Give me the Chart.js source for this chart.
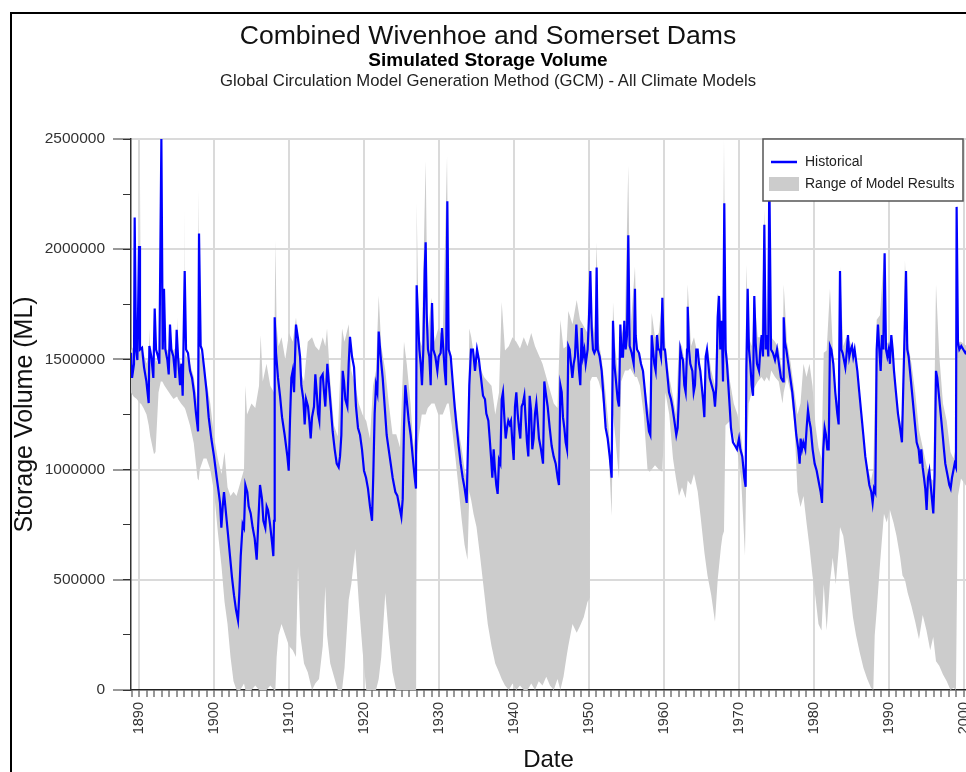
<!DOCTYPE html>
<html>
<head>
<meta charset="utf-8">
<title>Combined Wivenhoe and Somerset Dams</title>
<script src="https://cdn.jsdelivr.net/npm/chart.js@4.4.1/dist/chart.umd.min.js"></script>
<style>
  html, body { margin: 0; padding: 0; background: #fff; overflow: hidden; }
  body { width: 966px; height: 772px; position: relative; font-family: "Liberation Sans", Arial, sans-serif; }
  #frame { position: absolute; left: 10px; top: 12px; width: 1000px; height: 800px; border-left: 2px solid #000; border-top: 2px solid #000; pointer-events: none; }
  .t { position: absolute; left: 0; width: 976px; text-align: center; color: #111; line-height: 1; white-space: nowrap; }
  #t1 { top: 22px; font-size: 26.6px; }
  #t2 { top: 50px; font-size: 19px; font-weight: bold; color: #000; }
  #t3 { top: 73px; font-size: 16.7px; color: #222; }
  canvas { position: absolute; left: 0; top: 0; }
</style>
</head>
<body>
<canvas id="storageChart" width="966" height="772"></canvas>
<div class="t" id="t1">Combined Wivenhoe and Somerset Dams</div>
<div class="t" id="t2">Simulated Storage Volume</div>
<div class="t" id="t3">Global Circulation Model Generation Method (GCM) - All Climate Models</div>
<div id="frame"></div>
<script>
// Historical simulated storage (ML)
const histYears = [
  1888.93, 1889.07, 1889.33, 1889.42, 1889.60, 1889.78, 1890.00, 1890.13, 1890.40, 1890.67,
  1890.98, 1891.29, 1891.38, 1891.64, 1891.91, 1892.09, 1892.27, 1892.53, 1892.71, 1892.98,
  1893.16, 1893.33, 1893.51, 1893.78, 1893.96, 1894.13, 1894.31, 1894.58, 1894.84, 1895.02,
  1895.20, 1895.47, 1895.64, 1895.82, 1896.09, 1896.27, 1896.53, 1896.80, 1897.07, 1897.33,
  1897.60, 1897.87, 1898.00, 1898.22, 1898.40, 1898.67, 1899.02, 1899.29, 1899.64, 1900.00,
  1900.36, 1900.62, 1900.80, 1900.98, 1901.16, 1901.33, 1901.51, 1901.69, 1901.87, 1902.13,
  1902.40, 1902.67, 1902.93, 1903.20, 1903.38, 1903.56, 1903.82, 1904.00, 1904.18, 1904.44,
  1904.62, 1904.89, 1905.16, 1905.42, 1905.69, 1905.87, 1906.13, 1906.40, 1906.58, 1906.84,
  1907.02, 1907.20, 1907.47, 1907.73, 1907.91, 1908.00, 1908.09, 1908.27, 1908.53, 1908.80,
  1909.07, 1909.42, 1909.78, 1909.96, 1910.13, 1910.31, 1910.49, 1910.67, 1910.93, 1911.20,
  1911.47, 1911.64, 1911.91, 1912.09, 1912.27, 1912.53, 1912.71, 1912.89, 1913.07, 1913.33,
  1913.51, 1913.69, 1913.87, 1914.04, 1914.22, 1914.49, 1914.67, 1914.84, 1915.11, 1915.29,
  1915.56, 1915.82, 1916.09, 1916.36, 1916.62, 1916.80, 1916.98, 1917.16, 1917.33, 1917.51,
  1917.78, 1917.96, 1918.13, 1918.40, 1918.67, 1918.93, 1919.20, 1919.47, 1919.73, 1920.00,
  1920.27, 1920.53, 1920.80, 1921.07, 1921.24, 1921.42, 1921.60, 1921.78, 1921.96, 1922.22,
  1922.49, 1922.76, 1923.02, 1923.29, 1923.56, 1923.82, 1924.00, 1924.18, 1924.44, 1924.71,
  1924.98, 1925.16, 1925.33, 1925.51, 1925.78, 1925.96, 1926.22, 1926.49, 1926.76, 1926.93,
  1927.02, 1927.20, 1927.38, 1927.56, 1927.73, 1927.91, 1928.09, 1928.22, 1928.36, 1928.53,
  1928.71, 1928.89, 1929.07, 1929.24, 1929.51, 1929.78, 1929.96, 1930.22, 1930.40, 1930.58,
  1930.76, 1930.93, 1931.11, 1931.29, 1931.56, 1931.82, 1932.09, 1932.36, 1932.62, 1932.89,
  1933.16, 1933.42, 1933.69, 1933.87, 1934.04, 1934.27, 1934.53, 1934.80, 1935.07, 1935.33,
  1935.60, 1935.87, 1936.13, 1936.31, 1936.58, 1936.76, 1936.93, 1937.11, 1937.29, 1937.47,
  1937.64, 1937.82, 1938.00, 1938.18, 1938.36, 1938.53, 1938.71, 1938.89, 1939.07, 1939.24,
  1939.42, 1939.60, 1939.78, 1939.96, 1940.13, 1940.31, 1940.49, 1940.67, 1940.84, 1941.02,
  1941.20, 1941.38, 1941.56, 1941.73, 1941.91, 1942.09, 1942.27, 1942.44, 1942.62, 1942.80,
  1942.98, 1943.16, 1943.33, 1943.60, 1943.87, 1944.04, 1944.22, 1944.49, 1944.76, 1945.02,
  1945.29, 1945.56, 1945.82, 1946.00, 1946.18, 1946.36, 1946.53, 1946.71, 1946.89, 1947.07,
  1947.24, 1947.42, 1947.60, 1947.78, 1947.96, 1948.13, 1948.31, 1948.49, 1948.67, 1948.84,
  1949.02, 1949.20, 1949.38, 1949.56, 1949.82, 1950.00, 1950.18, 1950.36, 1950.53, 1950.71,
  1950.89, 1951.02, 1951.16, 1951.42, 1951.69, 1951.96, 1952.22, 1952.49, 1952.76, 1953.02,
  1953.20, 1953.38, 1953.56, 1953.82, 1954.00, 1954.18, 1954.36, 1954.53, 1954.71, 1954.89,
  1955.07, 1955.24, 1955.42, 1955.69, 1955.96, 1956.13, 1956.22, 1956.40, 1956.67, 1956.93,
  1957.20, 1957.47, 1957.73, 1958.00, 1958.18, 1958.36, 1958.53, 1958.71, 1958.89, 1959.07,
  1959.24, 1959.42, 1959.60, 1959.78, 1959.96, 1960.13, 1960.31, 1960.49, 1960.67, 1960.93,
  1961.11, 1961.38, 1961.64, 1961.82, 1962.00, 1962.18, 1962.36, 1962.53, 1962.71, 1962.89,
  1963.07, 1963.16, 1963.33, 1963.51, 1963.78, 1963.96, 1964.13, 1964.31, 1964.49, 1964.67,
  1964.84, 1965.02, 1965.20, 1965.38, 1965.56, 1965.73, 1965.91, 1966.09, 1966.36, 1966.62,
  1966.80, 1966.98, 1967.16, 1967.33, 1967.51, 1967.69, 1967.87, 1968.04, 1968.22, 1968.40,
  1968.58, 1968.76, 1968.93, 1969.20, 1969.47, 1969.73, 1970.00, 1970.18, 1970.44, 1970.71,
  1970.89, 1970.98, 1971.16, 1971.33, 1971.51, 1971.69, 1971.87, 1972.04, 1972.22, 1972.40,
  1972.67, 1972.84, 1973.02, 1973.20, 1973.38, 1973.56, 1973.73, 1973.91, 1974.04, 1974.27,
  1974.53, 1974.80, 1975.07, 1975.33, 1975.60, 1975.87, 1975.96, 1976.13, 1976.31, 1976.58,
  1976.84, 1977.11, 1977.38, 1977.64, 1977.91, 1978.09, 1978.22, 1978.40, 1978.58, 1978.84,
  1979.02, 1979.20, 1979.38, 1979.56, 1979.82, 1980.09, 1980.36, 1980.53, 1980.71, 1980.89,
  1981.07, 1981.24, 1981.42, 1981.60, 1981.78, 1981.96, 1982.13, 1982.31, 1982.58, 1982.84,
  1983.11, 1983.29, 1983.47, 1983.64, 1983.82, 1984.00, 1984.18, 1984.36, 1984.53, 1984.71,
  1984.89, 1985.07, 1985.24, 1985.42, 1985.60, 1985.78, 1986.04, 1986.31, 1986.58, 1986.84,
  1987.11, 1987.38, 1987.64, 1987.82, 1988.00, 1988.18, 1988.36, 1988.53, 1988.71, 1988.89,
  1989.07, 1989.24, 1989.42, 1989.60, 1989.78, 1989.96, 1990.13, 1990.31, 1990.49, 1990.67,
  1990.93, 1991.20, 1991.47, 1991.73, 1991.91, 1992.09, 1992.27, 1992.44, 1992.62, 1992.89,
  1993.16, 1993.42, 1993.69, 1993.96, 1994.13, 1994.31, 1994.49, 1994.67, 1994.84, 1995.02,
  1995.20, 1995.38, 1995.56, 1995.73, 1995.91, 1996.09, 1996.27, 1996.44, 1996.62, 1996.80,
  1996.98, 1997.16, 1997.33, 1997.51, 1997.69, 1997.87, 1998.04, 1998.22, 1998.40, 1998.58,
  1998.76, 1998.93, 1999.02, 1999.20, 1999.38, 1999.64, 1999.91, 2000.18, 2000.40
];
const histValues = [
  1530000, 1416000, 1480000, 2144000, 1545000, 1497000, 2014000, 1545000, 1553000, 1464000,
  1400000, 1302000, 1561000, 1513000, 1416000, 1731000, 1545000, 1513000, 1480000, 2500000,
  1545000, 1820000, 1545000, 1497000, 1432000, 1658000, 1545000, 1513000, 1416000, 1634000,
  1513000, 1383000, 1480000, 1335000, 1901000, 1545000, 1529000, 1448000, 1416000, 1351000,
  1254000, 1173000, 2071000, 1561000, 1545000, 1464000, 1351000, 1238000, 1141000, 1060000,
  963000, 898000, 849000, 736000, 833000, 898000, 833000, 768000, 704000, 607000,
  510000, 429000, 364000, 316000, 445000, 607000, 752000, 736000, 930000, 898000,
  833000, 801000, 736000, 688000, 591000, 736000, 930000, 866000, 768000, 736000,
  833000, 817000, 752000, 671000, 607000, 768000, 1691000, 1529000, 1416000, 1335000,
  1238000, 1157000, 1060000, 995000, 1222000, 1416000, 1448000, 1351000, 1658000, 1594000,
  1513000, 1383000, 1319000, 1205000, 1319000, 1286000, 1222000, 1141000, 1238000, 1286000,
  1432000, 1351000, 1254000, 1222000, 1416000, 1432000, 1351000, 1286000, 1480000, 1400000,
  1286000, 1173000, 1092000, 1027000, 1011000, 1060000, 1157000, 1448000, 1400000, 1319000,
  1286000, 1480000, 1602000, 1513000, 1464000, 1286000, 1189000, 1157000, 1092000, 995000,
  963000, 914000, 833000, 768000, 979000, 1254000, 1383000, 1351000, 1626000, 1513000,
  1416000, 1286000, 1157000, 1092000, 1027000, 963000, 930000, 898000, 882000, 833000,
  785000, 866000, 1189000, 1383000, 1286000, 1222000, 1157000, 1060000, 963000, 914000,
  1836000, 1691000, 1545000, 1480000, 1383000, 1545000, 1901000, 2031000, 1707000, 1545000,
  1513000, 1383000, 1756000, 1545000, 1513000, 1448000, 1513000, 1529000, 1642000, 1545000,
  1448000, 1383000, 2217000, 1545000, 1513000, 1400000, 1286000, 1189000, 1108000, 1027000,
  963000, 914000, 849000, 1124000, 1383000, 1545000, 1545000, 1448000, 1545000, 1497000,
  1416000, 1335000, 1319000, 1254000, 1222000, 1141000, 1060000, 963000, 1092000, 995000,
  930000, 890000, 1044000, 1027000, 1319000, 1351000, 1238000, 1141000, 1189000, 1222000,
  1205000, 1222000, 1124000, 1044000, 1286000, 1351000, 1254000, 1189000, 1141000, 1286000,
  1302000, 1335000, 1222000, 1124000, 1060000, 1335000, 1270000, 1092000, 1141000, 1254000,
  1302000, 1222000, 1141000, 1092000, 1027000, 1400000, 1351000, 1286000, 1189000, 1108000,
  1060000, 1027000, 963000, 930000, 1383000, 1351000, 1238000, 1189000, 1124000, 1092000,
  1561000, 1545000, 1480000, 1416000, 1480000, 1513000, 1658000, 1545000, 1448000, 1383000,
  1642000, 1513000, 1545000, 1480000, 1545000, 1691000, 1901000, 1642000, 1545000, 1529000,
  1545000, 1917000, 1545000, 1513000, 1448000, 1319000, 1189000, 1141000, 1060000, 963000,
  1675000, 1480000, 1416000, 1319000, 1286000, 1658000, 1513000, 1513000, 1675000, 1545000,
  1610000, 2063000, 1561000, 1529000, 1480000, 1820000, 1610000, 1545000, 1529000, 1480000,
  1448000, 1351000, 1254000, 1173000, 1157000, 1610000, 1545000, 1480000, 1448000, 1610000,
  1545000, 1545000, 1513000, 1780000, 1545000, 1545000, 1480000, 1416000, 1351000, 1319000,
  1286000, 1222000, 1157000, 1189000, 1335000, 1545000, 1513000, 1497000, 1383000, 1351000,
  1545000, 1739000, 1545000, 1480000, 1448000, 1351000, 1383000, 1545000, 1545000, 1480000,
  1448000, 1383000, 1319000, 1238000, 1513000, 1545000, 1480000, 1416000, 1383000, 1351000,
  1286000, 1383000, 1691000, 1788000, 1545000, 1675000, 1400000, 2209000, 1545000, 1480000,
  1383000, 1286000, 1189000, 1124000, 1108000, 1092000, 1141000, 1092000, 1060000, 963000,
  922000, 1448000, 1820000, 1545000, 1480000, 1383000, 1335000, 1788000, 1578000, 1480000,
  1448000, 1545000, 1610000, 1513000, 2111000, 1545000, 1610000, 1513000, 2350000, 1545000,
  1529000, 1497000, 1545000, 1480000, 1416000, 1400000, 1691000, 1578000, 1545000, 1480000,
  1416000, 1351000, 1254000, 1157000, 1092000, 1027000, 1141000, 1092000, 1124000, 1092000,
  1189000, 1270000, 1222000, 1189000, 1092000, 1027000, 995000, 963000, 930000, 898000,
  849000, 1092000, 1189000, 1157000, 1092000, 1092000, 1561000, 1545000, 1480000, 1351000,
  1254000, 1205000, 1901000, 1545000, 1529000, 1497000, 1464000, 1529000, 1610000, 1513000,
  1545000, 1561000, 1513000, 1545000, 1497000, 1448000, 1351000, 1254000, 1157000, 1060000,
  995000, 930000, 898000, 849000, 914000, 898000, 1545000, 1658000, 1545000, 1448000,
  1610000, 1545000, 1982000, 1545000, 1513000, 1545000, 1480000, 1610000, 1545000, 1448000,
  1351000, 1254000, 1189000, 1124000, 1383000, 1626000, 1901000, 1545000, 1513000, 1416000,
  1319000, 1222000, 1124000, 1092000, 1027000, 1092000, 1011000, 963000, 914000, 817000,
  963000, 995000, 930000, 866000, 801000, 979000, 1448000, 1416000, 1351000, 1286000,
  1222000, 1157000, 1092000, 1027000, 995000, 963000, 930000, 914000, 963000, 995000,
  1027000, 1011000, 2192000, 1578000, 1545000, 1561000, 1545000, 1529000, 1540000
];

// Range of model results (ML): lower and upper envelope
const rangeYears = [
  1888.93, 1889.30, 1889.70, 1890.00, 1890.13, 1890.25, 1890.60, 1891.00, 1891.30, 1891.38,
  1891.50, 1892.00, 1892.20, 1892.60, 1892.90, 1893.00, 1893.10, 1893.40, 1893.80, 1894.20,
  1894.60, 1895.00, 1895.10, 1895.20, 1895.60, 1896.00, 1896.09, 1896.20, 1896.80, 1897.30,
  1897.80, 1897.96, 1898.10, 1898.60, 1899.00, 1899.50, 1900.00, 1900.50, 1901.00, 1901.40,
  1901.80, 1902.20, 1902.60, 1903.00, 1903.50, 1904.00, 1904.18, 1904.40, 1905.00, 1905.50,
  1906.00, 1906.22, 1906.50, 1907.00, 1907.50, 1908.00, 1908.18, 1908.35, 1908.60, 1909.00,
  1909.50, 1910.00, 1910.50, 1910.93, 1911.20, 1911.50, 1912.00, 1912.50, 1913.07, 1913.50,
  1914.00, 1914.50, 1914.84, 1915.07, 1915.50, 1916.00, 1916.50, 1917.07, 1917.40, 1917.96,
  1918.30, 1918.84, 1919.30, 1919.80, 1920.30, 1920.80, 1921.20, 1921.60, 1921.96, 1922.30,
  1922.84, 1923.30, 1923.80, 1924.30, 1924.80, 1925.33, 1925.70, 1926.20, 1926.60, 1926.95,
  1927.02, 1927.30, 1927.70, 1928.22, 1928.50, 1929.00, 1929.40, 1929.90, 1930.50, 1931.07,
  1931.30, 1931.70, 1932.20, 1932.60, 1933.00, 1933.40, 1933.80, 1934.04, 1934.30, 1934.60,
  1935.00, 1935.50, 1936.00, 1936.50, 1937.00, 1937.50, 1938.00, 1938.36, 1938.80, 1939.30,
  1939.80, 1940.30, 1940.80, 1941.30, 1941.80, 1942.30, 1942.80, 1943.30, 1943.80, 1944.30,
  1944.80, 1945.30, 1945.80, 1946.18, 1946.60, 1947.00, 1947.24, 1947.80, 1948.36, 1948.80,
  1949.30, 1949.80, 1950.00, 1950.12, 1950.15, 1950.40, 1950.70, 1951.02, 1951.30, 1951.70,
  1952.20, 1952.60, 1953.02, 1953.20, 1953.50, 1954.00, 1954.30, 1954.80, 1955.24, 1955.50,
  1956.13, 1956.40, 1956.80, 1957.30, 1957.80, 1958.10, 1958.36, 1958.80, 1959.30, 1959.78,
  1960.20, 1960.70, 1961.20, 1961.60, 1962.00, 1962.40, 1962.89, 1963.16, 1963.60, 1964.00,
  1964.50, 1964.90, 1965.40, 1965.80, 1966.30, 1966.80, 1967.16, 1967.60, 1967.80, 1968.00,
  1968.20, 1968.80, 1969.30, 1969.80, 1970.30, 1970.80, 1970.98, 1971.30, 1971.70, 1972.04,
  1972.50, 1973.00, 1973.38, 1973.70, 1974.04, 1974.30, 1974.80, 1975.30, 1975.80, 1975.96,
  1976.40, 1976.90, 1977.40, 1977.80, 1978.20, 1978.60, 1979.00, 1979.40, 1979.80, 1980.20,
  1980.60, 1981.00, 1981.30, 1981.69, 1982.13, 1982.50, 1982.90, 1983.30, 1983.47, 1983.90,
  1984.30, 1984.80, 1985.20, 1985.60, 1986.10, 1986.60, 1987.10, 1987.60, 1987.91, 1988.10,
  1988.36, 1988.80, 1989.33, 1989.70, 1990.10, 1990.60, 1991.00, 1991.50, 1991.80, 1992.13,
  1992.50, 1993.00, 1993.50, 1994.00, 1994.50, 1995.00, 1995.50, 1995.90, 1996.27, 1996.70,
  1997.20, 1997.70, 1998.20, 1998.60, 1998.93, 1999.02, 1999.20, 1999.60, 2000.40
];
const rangeMin = [
  1350000, 1330000, 1320000, 1300000, 1300000, 1300000, 1280000, 1250000, 1200000, 1180000,
  1150000, 1070000, 1080000, 1350000, 1400000, 1400000, 1400000, 1380000, 1360000, 1340000,
  1320000, 1330000, 1330000, 1320000, 1300000, 1280000, 1280000, 1270000, 1200000, 1120000,
  960000, 950000, 1000000, 1050000, 1050000, 1000000, 900000, 720000, 560000, 400000,
  300000, 150000, 40000, 0, 0, 30000, 0, 0, 0, 20000,
  0, 0, 0, 0, 20000, 0, 0, 150000, 250000, 300000,
  250000, 200000, 180000, 150000, 560000, 250000, 120000, 80000, 0, 30000,
  50000, 200000, 470000, 250000, 120000, 60000, 0, 0, 100000, 410000,
  480000, 640000, 400000, 180000, 0, 0, 0, 0, 50000, 150000,
  440000, 250000, 80000, 0, 0, 0, 0, 0, 0, 0,
  1050000, 1150000, 1250000, 1250000, 1280000, 1300000, 1300000, 1250000, 1250000, 1300000,
  1300000, 1200000, 1050000, 920000, 780000, 660000, 590000, 900000, 860000, 800000,
  740000, 600000, 450000, 300000, 200000, 120000, 80000, 50000, 20000, 0,
  30000, 0, 20000, 0, 0, 30000, 0, 40000, 20000, 60000,
  20000, 0, 50000, 0, 60000, 150000, 200000, 300000, 260000, 290000,
  330000, 400000, 410000, 420000, 1400000, 1420000, 1420000, 1420000, 1400000, 1350000,
  1200000, 1100000, 790000, 1250000, 1150000, 960000, 1400000, 1450000, 1450000, 1460000,
  1420000, 1420000, 1380000, 1250000, 1000000, 990000, 1000000, 1020000, 1000000, 990000,
  1350000, 1250000, 1050000, 960000, 880000, 920000, 870000, 950000, 930000, 980000,
  900000, 780000, 620000, 520000, 430000, 310000, 500000, 650000, 700000, 720000,
  1200000, 1220000, 1150000, 1080000, 950000, 610000, 1000000, 1300000, 1350000, 1370000,
  1400000, 1420000, 1400000, 1420000, 1400000, 1450000, 1420000, 1400000, 1300000, 1350000,
  1420000, 1350000, 1200000, 900000, 830000, 880000, 760000, 650000, 520000, 420000,
  300000, 270000, 480000, 270000, 490000, 600000, 480000, 640000, 740000, 700000,
  600000, 450000, 330000, 250000, 170000, 100000, 50000, 10000, 0, 250000,
  360000, 570000, 800000, 760000, 820000, 760000, 700000, 600000, 520000, 500000,
  440000, 380000, 310000, 230000, 340000, 270000, 180000, 240000, 130000, 110000,
  70000, 40000, 0, 10000, 0, 300000, 880000, 960000, 920000
];
const rangeMax = [
  1540000, 1560000, 1560000, 1600000, 2300000, 1560000, 1530000, 1480000, 1520000, 1640000,
  1500000, 1450000, 1500000, 1480000, 1600000, 2450000, 1600000, 1560000, 1540000, 1560000,
  1540000, 1560000, 1690000, 1520000, 1480000, 1500000, 2180000, 1520000, 1480000, 1420000,
  1300000, 2270000, 1540000, 1480000, 1400000, 1300000, 1150000, 1050000, 980000, 1080000,
  920000, 880000, 900000, 880000, 940000, 1000000, 1380000, 1250000, 1300000, 1280000,
  1380000, 1610000, 1400000, 1480000, 1380000, 1350000, 2040000, 1650000, 1560000, 1600000,
  1500000, 1620000, 1580000, 1690000, 1600000, 1450000, 1400000, 1580000, 1600000, 1560000,
  1540000, 1600000, 1560000, 1640000, 1400000, 1200000, 1150000, 1640000, 1580000, 1660000,
  1450000, 1380000, 1300000, 1250000, 1220000, 1140000, 1380000, 1450000, 1790000, 1560000,
  1450000, 1300000, 1160000, 1160000, 1100000, 1580000, 1480000, 1300000, 1100000, 1200000,
  2210000, 1600000, 1560000, 2400000, 1620000, 1780000, 1580000, 1640000, 1600000, 2420000,
  1600000, 1450000, 1300000, 1180000, 1100000, 1000000, 950000, 1640000, 1600000, 1530000,
  1500000, 1460000, 1420000, 1400000, 1380000, 1250000, 1350000, 1760000, 1540000, 1560000,
  1600000, 1580000, 1550000, 1600000, 1560000, 1620000, 1560000, 1520000, 1480000, 1420000,
  1360000, 1300000, 1280000, 1680000, 1550000, 1560000, 1720000, 1660000, 1770000, 1680000,
  1650000, 1620000, 2080000, 1900000, 1850000, 1680000, 1620000, 2030000, 1580000, 1500000,
  1350000, 1200000, 1000000, 1760000, 1560000, 1380000, 1600000, 1680000, 2380000, 1620000,
  1920000, 1560000, 1520000, 1420000, 1300000, 1250000, 1710000, 1600000, 1620000, 1780000,
  1560000, 1420000, 1330000, 1250000, 1580000, 1560000, 1460000, 1840000, 1560000, 1600000,
  1520000, 1400000, 1260000, 1560000, 1450000, 1380000, 1800000, 1700000, 1560000, 2500000,
  1600000, 1400000, 1300000, 1250000, 1150000, 960000, 1930000, 1600000, 1560000, 1790000,
  1600000, 1600000, 2180000, 1620000, 2400000, 1600000, 1580000, 1550000, 1440000, 1840000,
  1580000, 1480000, 1350000, 1250000, 1300000, 1480000, 1420000, 1480000, 1380000, 1200000,
  1100000, 1050000, 1530000, 1540000, 1820000, 1560000, 1350000, 1280000, 1920000, 1560000,
  1600000, 1580000, 1540000, 1480000, 1300000, 1120000, 1020000, 950000, 1000000, 1300000,
  1680000, 1700000, 1980000, 1580000, 1560000, 1500000, 1300000, 1200000, 1260000, 1950000,
  1580000, 1480000, 1350000, 1180000, 1100000, 1020000, 960000, 950000, 1840000, 1520000,
  1300000, 1220000, 1080000, 1050000, 1100000, 2190000, 1580000, 1580000, 1560000
];

// y tick values shown as labels
const yTicks = [0, 500000, 1000000, 1500000, 2000000, 2500000];

const fontFamily = '"Liberation Sans", Arial, sans-serif';

const histPoints = histYears.map((yr, i) => ({ x: yr, y: histValues[i] }));
const minPoints = rangeYears.map((yr, i) => ({ x: yr, y: rangeMin[i] }));
const maxPoints = rangeYears.map((yr, i) => ({ x: yr, y: rangeMax[i] }));

// legend drawn as a boxed key in the upper right of the plot
const legendBox = {
    id: 'legendBox',
    afterDraw(chart) {
        const { ctx, chartArea } = chart;
        const left = chartArea.right - 203;
        const top = chartArea.top;
        ctx.save();
        ctx.fillStyle = '#ffffff';
        ctx.fillRect(left, top, 200, 62);
        ctx.strokeStyle = '#555555';
        ctx.lineWidth = 1.5;
        ctx.strokeRect(left, top, 200, 62);

        ctx.strokeStyle = '#0000ff';
        ctx.lineWidth = 2.5;
        ctx.beginPath();
        ctx.moveTo(left + 8, top + 23);
        ctx.lineTo(left + 34, top + 23);
        ctx.stroke();

        ctx.fillStyle = '#cccccc';
        ctx.fillRect(left + 6, top + 38, 30, 14);

        ctx.fillStyle = '#222222';
        ctx.font = '14px ' + fontFamily;
        ctx.textBaseline = 'middle';
        ctx.textAlign = 'left';
        ctx.fillText(chart.data.datasets[0].label, left + 42, top + 23);
        ctx.fillText(chart.data.datasets[2].label, left + 42, top + 45);
        ctx.restore();
    }
};

new Chart(document.getElementById('storageChart'), {
    type: 'line',
    data: {
        datasets: [{
            label: 'Historical',
            data: histPoints,
            borderColor: '#0000ff',
            borderWidth: 2.2,
            pointRadius: 0,
            tension: 0,
            fill: false
        }, {
            label: 'Model minimum',
            data: minPoints,
            borderColor: 'rgba(0,0,0,0)',
            borderWidth: 0,
            pointRadius: 0,
            tension: 0,
            fill: false
        }, {
            label: 'Range of Model Results',
            data: maxPoints,
            borderColor: 'rgba(0,0,0,0)',
            backgroundColor: '#cccccc',
            borderWidth: 0,
            pointRadius: 0,
            tension: 0,
            fill: '-1'
        }]
    },
    options: {
        responsive: false,
        animation: false,
        devicePixelRatio: 1,
        layout: { padding: { top: 139, left: 0, right: 0, bottom: 0 } },
        plugins: {
            legend: { display: false },
            tooltip: { enabled: false }
        },
        scales: {
            x: {
                type: 'linear',
                min: 1888.93,
                max: 2000.27,
                afterFit: s => { s.height = 82; s.paddingLeft = 0; s.paddingRight = 0; },
                border: { display: true, color: '#222', width: 1.5 },
                grid: {
                    color: c => (c.tick && c.tick.value % 10 === 0) ? '#dadada' : 'rgba(0,0,0,0)',
                    lineWidth: 2,
                    tickColor: '#333',
                    tickWidth: 1,
                    tickLength: 7
                },
                ticks: {
                    stepSize: 1,
                    autoSkip: false,
                    includeBounds: false,
                    minRotation: 90,
                    maxRotation: 90,
                    padding: 5,
                    color: '#333',
                    font: { family: fontFamily, size: 14.5 },
                    callback: v => v % 10 === 0 ? String(v) : ''
                },
                title: {
                    display: true,
                    text: 'Date',
                    color: '#111',
                    font: { family: fontFamily, size: 24, lineHeight: 1 },
                    padding: 0
                }
            },
            y: {
                type: 'linear',
                position: 'left',
                weight: 1,
                min: 0,
                max: 2500000,
                afterFit: s => { s.width = 131; },
                afterBuildTicks: s => { s.ticks = yTicks.map(v => ({ value: v })); },
                border: { display: true, color: '#333', width: 1.5 },
                grid: {
                    color: c => (c.tick && c.tick.value === 0) ? 'rgba(0,0,0,0)' : '#dadada',
                    lineWidth: 2,
                    tickColor: '#333',
                    tickWidth: 1,
                    tickLength: 18
                },
                ticks: {
                    padding: 8,
                    color: '#333',
                    font: { family: fontFamily, size: 15.5 },
                    callback: v => String(v)
                },
                title: {
                    display: true,
                    text: 'Storage Volume (ML)',
                    color: '#111',
                    font: { family: fontFamily, size: 25, lineHeight: 1 },
                    padding: { top: 12.5 }
                }
            },
            yMinor: {
                type: 'linear',
                position: 'left',
                weight: 0,
                min: 0,
                max: 2500000,
                afterFit: s => { s.width = 0; },
                border: { display: false },
                grid: {
                    drawOnChartArea: false,
                    color: '#333',
                    tickColor: '#333',
                    tickWidth: 1,
                    tickLength: 8
                },
                ticks: { stepSize: 250000, display: false }
            }
        }
    },
    plugins: [legendBox]
});
</script>
</body>
</html>
